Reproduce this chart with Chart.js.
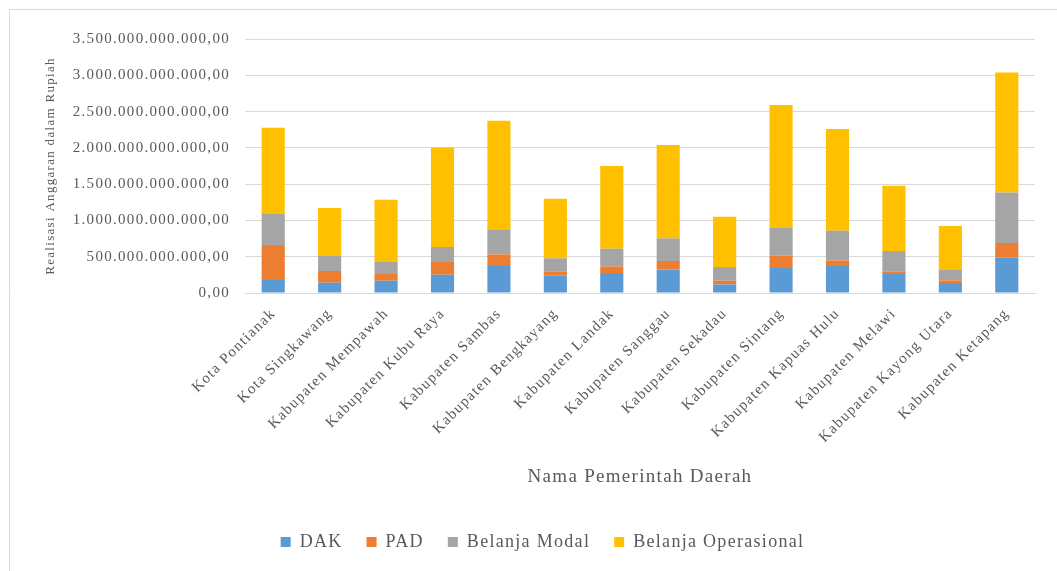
<!DOCTYPE html>
<html>
<head>
<meta charset="utf-8">
<script src="https://cdn.jsdelivr.net/npm/chart.js@4/dist/chart.umd.min.js"></script>
<style>
  html, body { margin: 0; padding: 0; background: #ffffff; }
  #wrap { position: relative; width: 1057px; height: 571px; }
</style>
</head>
<body>
<div id="wrap"><canvas id="c"></canvas></div>
<script>
// Values in billions of Rupiah (miliar)
const categories = [
  'Kota Pontianak', 'Kota Singkawang', 'Kabupaten Mempawah', 'Kabupaten Kubu Raya',
  'Kabupaten Sambas', 'Kabupaten Bengkayang', 'Kabupaten Landak', 'Kabupaten Sanggau',
  'Kabupaten Sekadau', 'Kabupaten Sintang', 'Kabupaten Kapuas Hulu', 'Kabupaten Melawi',
  'Kabupaten Kayong Utara', 'Kabupaten Ketapang'
];
const dak = [179, 142, 169, 252, 385, 243, 275, 325, 118, 344, 372, 262, 138, 486];
const pad = [482, 161, 93, 175, 147, 55, 92, 116, 51, 174, 77, 36, 36, 203];
const belanjaModal = [435, 207, 173, 207, 344, 179, 243, 311, 189, 386, 409, 281, 151, 697];
const belanjaOperasional = [1181, 661, 850, 1372, 1497, 822, 1139, 1287, 693, 1686, 1401, 899, 598, 1653];
const seriesNames = ['DAK', 'PAD', 'Belanja Modal', 'Belanja Operasional'];
const seriesColors = ['#5B9BD5', '#ED7D31', '#A5A5A5', '#FFC000'];
const yMax = 3500;
const yStep = 500;

function fmtRupiah(billions) {
  const n = Math.round(billions * 1e9);
  return String(n).replace(/\B(?=(\d{3})+(?!\d))/g, '.') + ',00';
}

const FONT = "'Liberation Serif', 'Times New Roman', serif";
const TXT = '#595959';
const GRID = '#d9d9d9';

const spacingPlugin = {
  id: 'spacing',
  beforeLayout(chart) { chart.ctx.letterSpacing = '1.3px'; },
  beforeDraw(chart) {
    const ctx = chart.ctx;
    ctx.letterSpacing = '1.3px';
    ctx.save();
    ctx.fillStyle = '#ffffff';
    ctx.fillRect(0, 0, chart.width, chart.height);
    ctx.strokeStyle = GRID;
    ctx.lineWidth = 1;
    ctx.beginPath();
    ctx.moveTo(9.5, chart.height);
    ctx.lineTo(9.5, 9.5);
    ctx.lineTo(chart.width, 9.5);
    ctx.stroke();
    ctx.restore();
  },
  afterLayout(chart) {
    const lg = chart.legend;
    if (lg) { lg.left += 20; lg.right += 20; }
  }
};

const datasetsValues = [dak, pad, belanjaModal, belanjaOperasional];

new Chart(document.getElementById('c'), {
  type: 'bar',
  data: {
    labels: categories,
    datasets: datasetsValues.map((vals, i) => ({
      label: seriesNames[i],
      data: vals,
      backgroundColor: seriesColors[i],
      borderWidth: 0,
      barPercentage: 0.41,
      categoryPercentage: 1.0
    }))
  },
  options: {
    responsive: true,
    maintainAspectRatio: false,
    animation: false,
    devicePixelRatio: 1,
    layout: { padding: { top: 39, right: 22, left: 10, bottom: 10 } },
    plugins: {
      tooltip: { enabled: false },
      legend: {
        position: 'bottom',
        labels: {
          font: { family: FONT, size: 18 },
          color: TXT,
          boxWidth: 10,
          boxHeight: 10,
          padding: 24
        }
      }
    },
    scales: {
      x: {
        stacked: true,
        grid: { display: false },
        border: { display: true, color: GRID },
        ticks: {
          font: { family: FONT, size: 15 },
          color: TXT,
          maxRotation: 45,
          minRotation: 45,
          autoSkip: false,
          padding: 4
        },
        title: {
          display: true,
          text: 'Nama Pemerintah Daerah',
          font: { family: FONT, size: 19 },
          color: TXT,
          padding: { top: 4, bottom: 21 }
        },
        afterFit(scale) { scale.height = 216; }
      },
      y: {
        stacked: true,
        min: 0,
        max: yMax,
        grid: { color: GRID, drawTicks: false },
        border: { display: false },
        ticks: {
          stepSize: yStep,
          font: { family: FONT, size: 15 },
          color: TXT,
          padding: 15,
          callback: (v) => fmtRupiah(v)
        },
        title: {
          display: true,
          text: 'Realisasi Anggaran dalam Rupiah',
          font: { family: FONT, size: 13 },
          color: TXT,
          padding: { top: 33, bottom: 4 }
        },
        afterFit(scale) { scale.width = 235; }
      }
    }
  },
  plugins: [spacingPlugin]
});
</script>
</body>
</html>
